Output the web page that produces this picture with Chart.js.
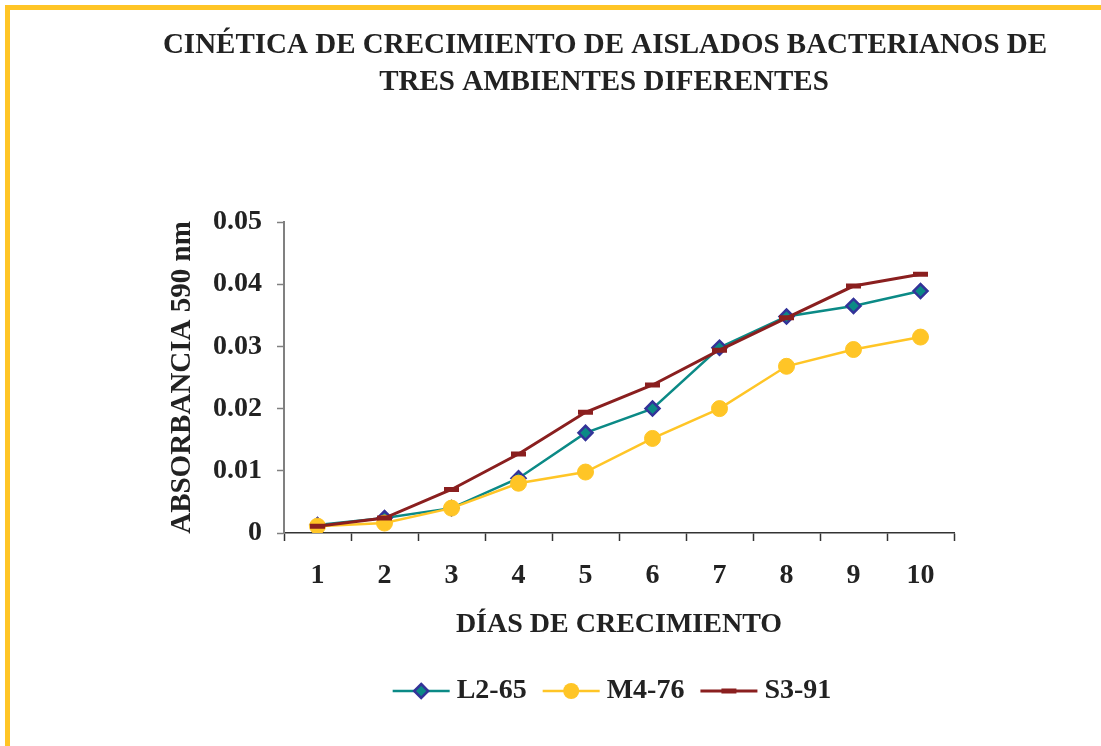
<!DOCTYPE html>
<html>
<head>
<meta charset="utf-8">
<script src="https://cdn.jsdelivr.net/npm/chart.js@4/dist/chart.umd.min.js"></script>
<style>
  html, body { margin: 0; padding: 0; background: #ffffff; }
  #wrap { position: relative; width: 1101px; height: 746px; }
</style>
</head>
<body>
<div id="wrap"><canvas id="c" width="1101" height="746"></canvas></div>
<script>
// ---- data ----
const titleLines = ['CINÉTICA DE CRECIMIENTO DE AISLADOS BACTERIANOS DE', 'TRES AMBIENTES DIFERENTES'];
const xAxisTitle = 'DÍAS DE CRECIMIENTO';
const yAxisTitle = 'ABSORBANCIA 590 nm';
const days = ['1', '2', '3', '4', '5', '6', '7', '8', '9', '10'];
const yTickLabels = ['0', '0.01', '0.02', '0.03', '0.04', '0.05'];
const seriesNames = ['L2-65', 'M4-76', 'S3-91'];
const L2_65 = [0.0013, 0.0024, 0.0040, 0.0088, 0.0161, 0.0200, 0.0298, 0.0348, 0.0365, 0.0389];
const M4_76 = [0.0011, 0.0016, 0.0040, 0.0080, 0.0098, 0.0152, 0.0200, 0.0268, 0.0295, 0.0315];
const S3_91 = [0.0011, 0.0024, 0.0070, 0.0127, 0.0194, 0.0238, 0.0294, 0.0346, 0.0397, 0.0416];

// ---- styles ----
const FONT = "'Liberation Serif', 'Times New Roman', serif";
const TEXT = '#222222';
const TEAL = '#0B8A86';
const NAVY = '#333399';
const YELLOW = '#FFC526';
const DARKRED = '#8A1F1F';
const FRAME = '#FFC526';

const framePlugin = {
  id: 'frame',
  afterLayout(chart) {
    const lg = chart.legend;
    if (lg) { lg.left -= 7; lg.right -= 7; }
  },
  beforeDraw(chart) {
    const ctx = chart.ctx;
    ctx.save();
    ctx.fillStyle = FRAME;
    ctx.fillRect(5, 5, 5, 741);
    ctx.fillRect(5, 5, 1096, 5);
    ctx.fillStyle = TEXT;
    ctx.font = 'bold 29px ' + FONT;
    ctx.textAlign = 'center';
    ctx.textBaseline = 'middle';
    ctx.fillText(titleLines[0], 605, 46);
    ctx.fillText(titleLines[1], 604, 83);
    ctx.restore();
  }
};

function drawMarker(ctx, ds, x, y) {
  ctx.save();
  if (ds.pointStyle === 'rectRot') {
    const r = ds.pointRadius;
    ctx.beginPath();
    ctx.moveTo(x, y - r); ctx.lineTo(x + r, y); ctx.lineTo(x, y + r); ctx.lineTo(x - r, y); ctx.closePath();
    ctx.fillStyle = ds.pointBackgroundColor; ctx.fill();
    ctx.lineWidth = ds.pointBorderWidth; ctx.strokeStyle = ds.pointBorderColor; ctx.stroke();
  } else if (ds.pointStyle === 'circle') {
    ctx.beginPath();
    ctx.arc(x, y, ds.pointRadius, 0, Math.PI * 2);
    ctx.fillStyle = ds.pointBackgroundColor; ctx.fill();
  } else if (ds.pointStyle === 'line') {
    ctx.beginPath();
    ctx.moveTo(x - ds.pointRadius, y); ctx.lineTo(x + ds.pointRadius, y);
    ctx.lineWidth = ds.pointBorderWidth; ctx.strokeStyle = ds.pointBorderColor; ctx.stroke();
  }
  ctx.restore();
}

const legendMarkPlugin = {
  id: 'legendMarks',
  afterDraw(chart) {
    const lg = chart.legend;
    if (!lg || !lg.legendHitBoxes) return;
    const ctx = chart.ctx;
    lg.legendHitBoxes.forEach((hb, i) => {
      const ds = chart.data.datasets[i];
      const y = hb.top + hb.height / 2;
      const x0 = hb.left, x1 = hb.left + 57;
      ctx.save();
      ctx.beginPath();
      ctx.moveTo(x0, y); ctx.lineTo(x1, y);
      ctx.lineWidth = ds.borderWidth; ctx.strokeStyle = ds.borderColor; ctx.stroke();
      ctx.restore();
      drawMarker(ctx, ds, (x0 + x1) / 2, y);
    });
  }
};

const datasets = [
  { label: seriesNames[0], data: L2_65, borderColor: TEAL, borderWidth: 2.5,
    pointStyle: 'rectRot', pointRadius: 7, pointBackgroundColor: TEAL, pointBorderColor: NAVY, pointBorderWidth: 2.5, order: 3 },
  { label: seriesNames[1], data: M4_76, borderColor: YELLOW, borderWidth: 2.5,
    pointStyle: 'circle', pointRadius: 8, pointBackgroundColor: YELLOW, pointBorderColor: YELLOW, pointBorderWidth: 1, order: 2 },
  { label: seriesNames[2], data: S3_91, borderColor: DARKRED, borderWidth: 3,
    pointStyle: 'line', pointRadius: 7.5, pointBackgroundColor: DARKRED, pointBorderColor: DARKRED, pointBorderWidth: 5, order: 1 }
];

new Chart(document.getElementById('c'), {
  type: 'line',
  data: { labels: days, datasets: datasets },
  plugins: [framePlugin, legendMarkPlugin],
  options: {
    responsive: false,
    animation: false,
    layout: { padding: { left: 10, right: 147, top: 222, bottom: 31 } },
    elements: { line: { tension: 0, fill: false } },
    plugins: {
      title: { display: false },
      tooltip: { enabled: false },
      legend: {
        display: true,
        position: 'bottom',
        fullSize: false,
        labels: {
          boxWidth: 50,
          boxHeight: 28,
          padding: 16,
          color: TEXT,
          font: { family: FONT, size: 28, weight: 'bold' },
          generateLabels(chart) {
            return chart.data.datasets.map((ds, i) => ({
              text: ds.label, fillStyle: 'rgba(0,0,0,0)', strokeStyle: 'rgba(0,0,0,0)',
              lineWidth: 0, hidden: false, datasetIndex: i, fontColor: TEXT
            }));
          }
        }
      }
    },
    scales: {
      x: {
        type: 'category',
        offset: true,
        afterFit(scale) { scale.height = 128; },
        grid: { offset: true, drawOnChartArea: false, drawTicks: true, tickLength: 8, tickColor: '#333333', tickWidth: 1.5 },
        border: { display: true, color: '#333333', width: 1.5 },
        ticks: { color: TEXT, padding: 18, maxRotation: 0, font: { family: FONT, size: 28, weight: 'bold' } },
        title: { display: true, text: xAxisTitle, color: TEXT, padding: { top: 0, bottom: 19 },
                 font: { family: FONT, size: 28, weight: 'bold' } }
      },
      y: {
        min: 0, max: 0.05,
        afterFit(scale) { scale.width = 274; },
        grid: { drawOnChartArea: false, drawTicks: true, tickLength: 7, tickColor: '#808080', tickWidth: 1.5 },
        border: { display: true, color: '#808080', width: 2 },
        ticks: {
          stepSize: 0.01, color: TEXT, padding: 15,
          font: { family: FONT, size: 28, weight: 'bold' },
          callback(value, index) { return yTickLabels[index]; }
        },
        title: { display: true, text: yAxisTitle, color: TEXT, padding: { top: 155, bottom: 0 },
                 font: { family: FONT, size: 29, weight: 'bold' } }
      }
    }
  }
});
</script>
</body>
</html>
